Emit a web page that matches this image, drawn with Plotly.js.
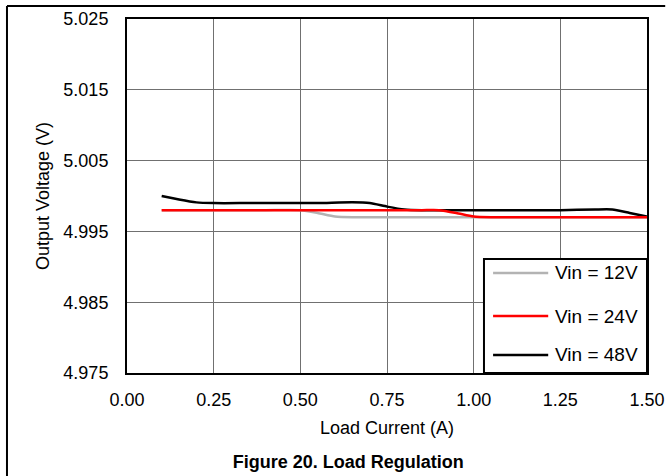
<!DOCTYPE html>
<html>
<head>
<meta charset="utf-8">
<script src="https://cdn.plot.ly/plotly-3.0.1.min.js"></script>
<style>html,body{margin:0;padding:0;background:#fff;}#chart{width:671px;height:476px;}</style>
</head>
<body>
<div id="chart"></div>
<script>
// Data
const seriesNames = ["Vin = 12V", "Vin = 24V", "Vin = 48V"];
const seriesColors = ["#b3b3b3", "#ff0000", "#000000"];

const current12 = [0.10, 0.20, 0.30, 0.40, 0.50, 0.55, 0.60, 0.65, 0.75, 0.90, 1.05, 1.20, 1.35, 1.50];
const vout12    = [4.9980, 4.9980, 4.9980, 4.9980, 4.9980, 4.9976, 4.9971, 4.9970, 4.9970, 4.9970, 4.9970, 4.9970, 4.9970, 4.9970];

const current24 = [0.10, 0.25, 0.40, 0.55, 0.70, 0.85, 0.90, 0.95, 1.00, 1.05, 1.20, 1.35, 1.50];
const vout24    = [4.9980, 4.9980, 4.9980, 4.9980, 4.9980, 4.9980, 4.9980, 4.9976, 4.9971, 4.9970, 4.9970, 4.9970, 4.9970];

const current48 = [0.10, 0.15, 0.20, 0.25, 0.35, 0.45, 0.55, 0.65, 0.70, 0.75, 0.80, 0.85, 0.95, 1.05, 1.15, 1.25, 1.35, 1.40, 1.45, 1.50];
const vout48    = [5.0000, 4.9995, 4.9991, 4.9990, 4.9990, 4.9990, 4.9990, 4.9991, 4.9990, 4.9985, 4.9981, 4.9980, 4.9980, 4.9980, 4.9980, 4.9980, 4.9981, 4.9981, 4.9976, 4.9971];

const xTickVals = [0, 0.25, 0.5, 0.75, 1.0, 1.25, 1.5];
const yTickVals = [4.975, 4.985, 4.995, 5.005, 5.015, 5.025];

const xs = [current12, current24, current48];
const ys = [vout12, vout24, vout48];
const drawOrder = [0, 2, 1];

const traces = drawOrder.map(i => ({
  type: 'scatter', mode: 'lines', name: seriesNames[i],
  x: xs[i], y: ys[i],
  line: {color: seriesColors[i], width: 2.5, shape: 'spline', smoothing: 0.6},
  showlegend: false, hoverinfo: 'skip'
}));

const FONT = 'Liberation Sans, Arial, sans-serif';

// Custom legend (box, sample lines, labels) in axis-domain coordinates
const shapes = [
  {type: 'line', xref: 'paper', yref: 'paper', x0: -0.2308, x1: -0.2308, y0: 1.0367, y1: -0.30, line: {color: '#000', width: 2}},
  {type: 'line', xref: 'paper', yref: 'paper', x0: -0.2308, x1: 1.035, y0: 1.0367, y1: 1.0367, line: {color: '#000', width: 2}},
  {type: 'rect', xref: 'x domain', yref: 'y domain', x0: 0.6865, x1: 1.0, y0: 0, y1: 0.322, fillcolor: '#fff', line: {color: '#000', width: 2}, layer: 'above'}
];
const legendRowsY = [0.2825, 0.161, 0.051];
const annotations = [];
seriesNames.forEach((n, i) => {
  shapes.push({type: 'line', xref: 'x domain', yref: 'y domain', x0: 0.704, x1: 0.81, y0: legendRowsY[i], y1: legendRowsY[i], line: {color: seriesColors[i], width: 2.5}, layer: 'above'});
  annotations.push({xref: 'x domain', yref: 'y domain', x: 0.819, y: legendRowsY[i], xanchor: 'left', yanchor: 'middle', text: n, showarrow: false, font: {family: FONT, size: 19, color: '#000'}});
});

const layout = {
  width: 671, height: 476,
  margin: {l: 127, r: 24, t: 19, b: 103},
  paper_bgcolor: '#fff', plot_bgcolor: '#fff',
  showlegend: false,
  font: {family: FONT, size: 18, color: '#000'},
  title: {text: '<b>Figure 20. Load Regulation</b>', font: {family: FONT, size: 18, color: '#000'}, x: 0.519, xref: 'container', xanchor: 'center', y: 0.029, yref: 'container', yanchor: 'middle'},
  xaxis: {
    range: [0, 1.5], tickvals: xTickVals, tickformat: '.2f',
    showgrid: true, gridcolor: '#707070', gridwidth: 1, zeroline: false,
    showline: true, linecolor: '#000', linewidth: 2, mirror: true, ticks: '',
    ticklabelstandoff: 9,
    title: {text: 'Load Current (A)', standoff: 13, font: {family: FONT, size: 18}}
  },
  yaxis: {
    range: [4.975, 5.025], tickvals: yTickVals, tickformat: '.3f',
    showgrid: true, gridcolor: '#707070', gridwidth: 1, zeroline: false,
    showline: true, linecolor: '#000', linewidth: 2, mirror: true, ticks: '',
    ticklabelstandoff: 13,
    title: {text: 'Output Voltage (V)', standoff: 9, font: {family: FONT, size: 18}}
  },
  shapes: shapes,
  annotations: annotations
};

Plotly.newPlot('chart', traces, layout, {displayModeBar: false, staticPlot: true});
</script>
</body>
</html>
